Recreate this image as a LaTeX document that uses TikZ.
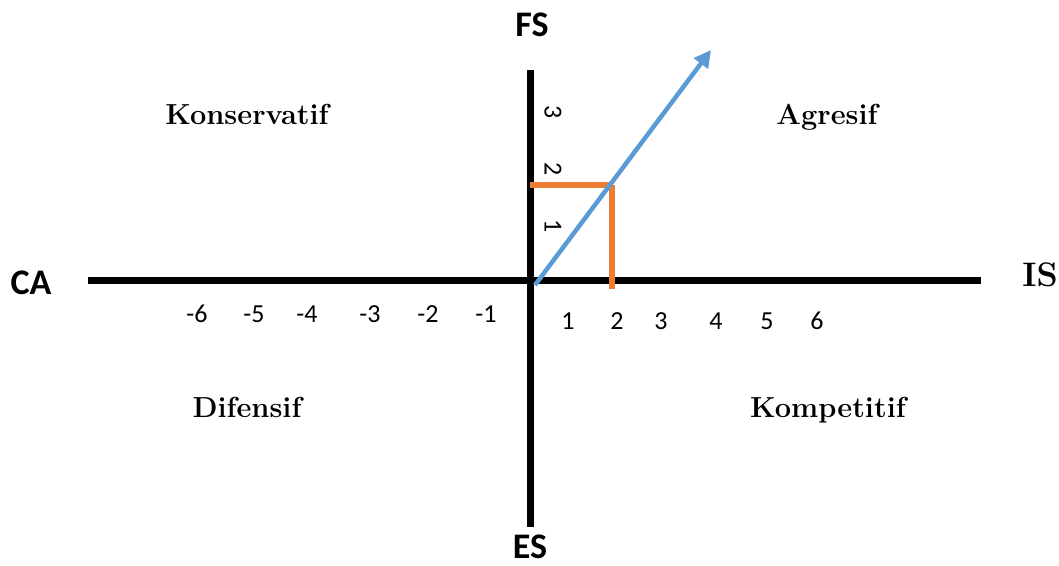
\documentclass[tikz,border=0pt]{standalone}
\usepackage{fontspec}
\newfontfamily\carlito{Carlito}
\usetikzlibrary{arrows.meta}
\definecolor{axisorange}{RGB}{237,125,49}
\definecolor{axisblue}{RGB}{91,155,213}
\begin{document}
\begin{tikzpicture}[x=1pt,y=-1pt,
  axis/.style={line width=7pt,black},
  guide/.style={line width=6pt,axisorange},
  vec/.style={line width=4.5pt,axisblue,-{Triangle[length=17pt,width=17pt]}},
  axlabel/.style={font=\carlito\bfseries\fontsize{36}{40}\selectfont,inner sep=0pt,anchor=base},
  serlabel/.style={font=\bfseries\fontsize{34}{38}\selectfont,inner sep=0pt,anchor=base},
  quad/.style={font=\bfseries\fontsize{29}{34}\selectfont,inner sep=0pt,anchor=base},
  num/.style={font=\carlito\fontsize{26}{30}\selectfont,inner sep=0pt},
  vnum/.style={num,rotate=-90}]
\useasboundingbox (0,0) rectangle (1059,565);
% axes
\coordinate (L) at (88,280);
\coordinate (R) at (981,280);
\coordinate (T) at (530,70);
\coordinate (B) at (530,527);
\draw[axis] (L) -- (R);
\draw[axis] (T) -- (B);
% orange guides
\coordinate (gy) at (530,185);
\coordinate (gp) at (612,185);
\coordinate (gx) at (612,289);
\draw[guide] (gy) -- (gp);
\draw[guide] (gp) -- (gx);
% blue vector
\coordinate (vs) at (535,285);
\coordinate (ve) at (711,50);
\draw[vec] (vs) -- (ve);
% axis labels
\node[axlabel] (FS) at (532,36) {FS};
\node[axlabel] (ES) at (530,558) {ES};
\node[axlabel] (CA) at (31,294) {CA};
\node[serlabel] (IS) at (1040,286) {IS};
% quadrant labels
\node[quad] (kons) at (247,124) {Konservatif};
\node[quad] (agr) at (827,124) {Agresif};
\node[quad] (dif) at (247,417) {Difensif};
\node[quad] (komp) at (828,417) {Kompetitif};
% x numbers
\node[num] (m6) at (197,314) {-6};
\node[num] (m5) at (254,314) {-5};
\node[num] (m4) at (307,314) {-4};
\node[num] (m3) at (370,314) {-3};
\node[num] (m2) at (428,314) {-2};
\node[num] (m1) at (486,314) {-1};
\node[num] (p1) at (568,321) {1};
\node[num] (p2) at (617,321) {2};
\node[num] (p3) at (661,321) {3};
\node[num] (p4) at (716,321) {4};
\node[num] (p5) at (767,321) {5};
\node[num] (p6) at (817,321) {6};
% y numbers
\node[vnum] (y3) at (553,112) {3};
\node[vnum] (y2) at (553,169) {2};
\node[vnum] (y1) at (553,226) {1};
\end{tikzpicture}
\end{document}
